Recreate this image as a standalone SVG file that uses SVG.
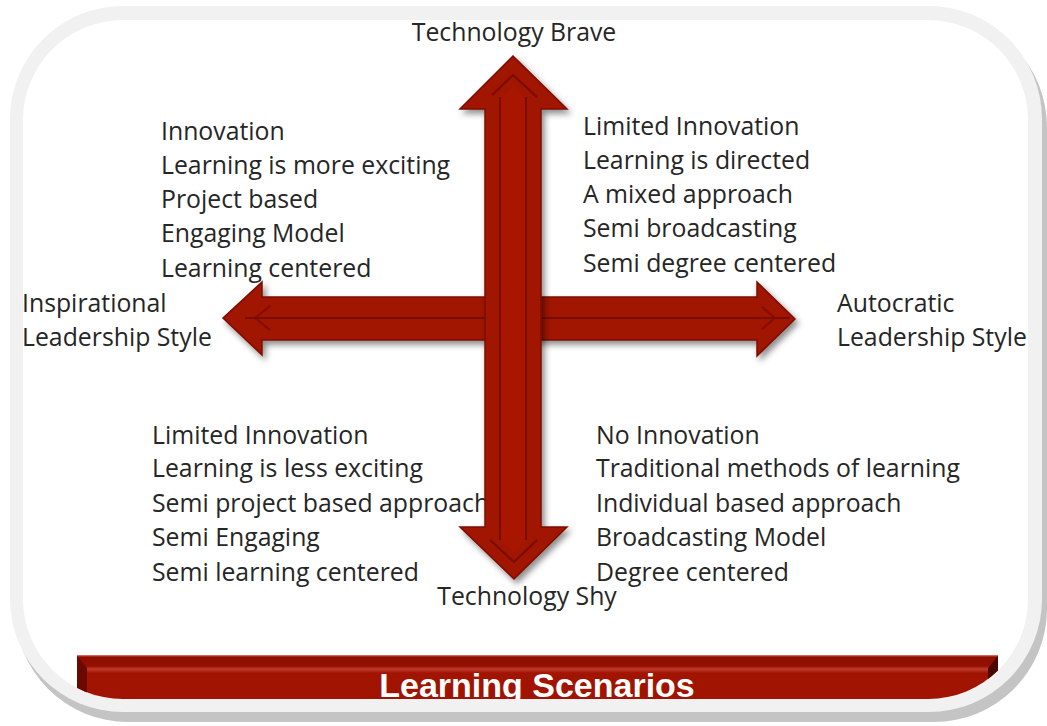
<svg xmlns="http://www.w3.org/2000/svg" width="1047" height="726" viewBox="0 0 1047 726">
<defs>
<style>
.t{font-family:"Open Sans","Liberation Sans",sans-serif;font-size:24.8px;fill:#262626}
.arrow{fill:#a01300;stroke:#7d0d00;stroke-width:1.5}
.inner{fill:none;stroke:#6e0b00;stroke-width:2;opacity:0.8}
</style>
<clipPath id="innerClip"><rect x="23" y="20" width="1005" height="679" rx="100" ry="100"/></clipPath>
<linearGradient id="ban" x1="0" y1="0" x2="0" y2="1">
<stop offset="0" stop-color="#e08a80"/>
<stop offset="0.04" stop-color="#8e0e00"/>
<stop offset="0.22" stop-color="#931000"/>
<stop offset="0.28" stop-color="#c0392e"/>
<stop offset="0.36" stop-color="#a11400"/>
<stop offset="1" stop-color="#a01300"/>
</linearGradient>
<filter id="sh" x="-10%" y="-10%" width="130%" height="130%">
<feDropShadow dx="3" dy="4" stdDeviation="3" flood-color="#000" flood-opacity="0.45"/>
</filter>
</defs>

<g id="frame">
<rect x="15" y="14" width="1032" height="708" rx="113" ry="113" fill="#c4c4c4"/>
<rect x="10" y="6" width="1032" height="706" rx="113" ry="113" fill="#f1f1f1"/>
<rect x="23" y="20" width="1005" height="679" rx="100" ry="100" fill="#ffffff"/>
</g>

<g id="banner" clip-path="url(#innerClip)">
<rect x="77" y="655" width="921" height="50" fill="url(#ban)"/>
<polygon points="77,656 87,668 87,705 77,705" fill="#6a0900"/>
<polygon points="998,656 988,668 988,705 998,705" fill="#4a0600"/>
<text x="537" y="697" text-anchor="middle" style="font-family:'Liberation Sans',Arial,sans-serif;font-weight:bold;font-size:34px;fill:#ffffff">Learning Scenarios</text>
</g>

<g id="quadrant-tl">
<text class="t" x="161" y="140">Innovation</text>
<text class="t" x="161" y="174">Learning is more exciting</text>
<text class="t" x="161" y="208">Project based</text>
<text class="t" x="161" y="242">Engaging Model</text>
<text class="t" x="161" y="277">Learning centered</text>
</g>
<g id="quadrant-tr">
<text class="t" x="583" y="135">Limited Innovation</text>
<text class="t" x="583" y="169">Learning is directed</text>
<text class="t" x="583" y="203">A mixed approach</text>
<text class="t" x="583" y="237">Semi broadcasting</text>
<text class="t" x="583" y="272">Semi degree centered</text>
</g>
<g id="quadrant-bl">
<text class="t" x="152" y="444">Limited Innovation</text>
<text class="t" x="152" y="477">Learning is less exciting</text>
<text class="t" x="152" y="512">Semi project based approach</text>
<text class="t" x="152" y="546">Semi Engaging</text>
<text class="t" x="152" y="581">Semi learning centered</text>
</g>
<g id="quadrant-br">
<text class="t" x="596" y="444">No Innovation</text>
<text class="t" x="596" y="477">Traditional methods of learning</text>
<text class="t" x="596" y="512">Individual based approach</text>
<text class="t" x="596" y="546">Broadcasting Model</text>
<text class="t" x="596" y="581">Degree centered</text>
</g>

<g id="label-top"><text class="t" x="514" y="41" text-anchor="middle">Technology Brave</text></g>
<g id="label-bottom"><text class="t" x="527" y="605" text-anchor="middle">Technology Shy</text></g>
<g id="label-left">
<text class="t" x="22" y="312">Inspirational</text>
<text class="t" x="22" y="346">Leadership Style</text>
</g>
<g id="label-right">
<text class="t" x="837" y="312">Autocratic</text>
<text class="t" x="837" y="346">Leadership Style</text>
</g>

<g id="connectors">
<g id="horizontal-arrow" filter="url(#sh)">
<polygon class="arrow" points="223,318 262,282 262,297 757,297 757,282 795,319 757,356 757,340 262,340 262,355"/>
<path class="inner" d="M790,318 L245,318"/>
<path class="inner" d="M255,318 L270,306 M255,318 L270,330 M775,318 L762,307 M775,318 L762,329" style="opacity:0.5"/>
</g>
<g id="vertical-arrow" filter="url(#sh)">
<polygon class="arrow" points="513,56 567,109 541,109 541,527 567,527 514,579 460,527 485,527 485,109 460,109"/>
<path d="M500,100 L513,86 L526,100 L526,540 L514,552 L500,540 Z" fill="#a81800" stroke="none"/>
<path class="inner" d="M492,95 L513,75 L537,97"/>
<path class="inner" d="M500,97 L500,540"/>
<path class="inner" d="M526,97 L526,540"/>
<path class="inner" d="M490,540 L514,562 L537,540"/>
</g>
</g>
</svg>
